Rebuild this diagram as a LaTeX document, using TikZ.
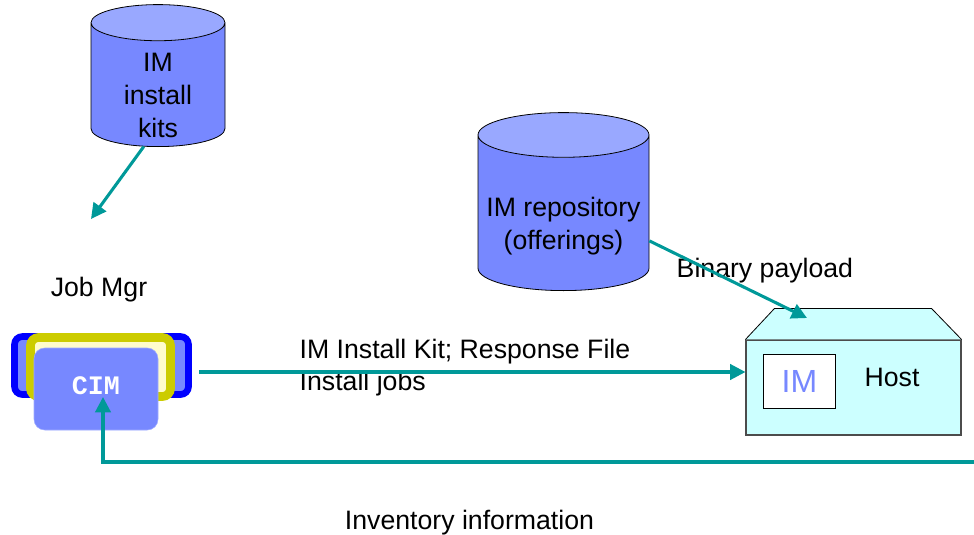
\documentclass[tikz,border=0pt]{standalone}
\usepackage{fontspec}
\setmainfont{Liberation Sans}
\newfontfamily\cimfont{Liberation Mono}
\usepackage{xcolor}
\usepackage{tikz}
\usetikzlibrary{shapes.geometric, arrows.meta, calc}
\definecolor{imblue}{HTML}{7788FF}
\definecolor{imtop}{HTML}{99A8FF}
\definecolor{imteal}{HTML}{009999}
\definecolor{imyellow}{HTML}{CCCC00}
\definecolor{hostfill}{HTML}{CCFFFF}
\newcommand{\storetext}[2]{\raisebox{#1}[0pt][0pt]{\begin{tabular}{@{}c@{}}#2\end{tabular}}}
\tikzstyle{label} = [font=\fontsize{20}{20}\selectfont, text=black]
\tikzstyle{store} = [cylinder, shape border rotate=90, cylinder uses custom fill, cylinder body fill=imblue, cylinder end fill=imtop, draw=black, line width=0.6pt, inner sep=0pt, anchor=south, font=\fontsize{20}{24.75}\selectfont]
\tikzstyle{arrow} = [line width=2.3pt, draw=imteal, -{Triangle[length=11.5pt,width=11.5pt]}]
\begin{document}
\begin{tikzpicture}[x=0.75pt,y=-0.75pt]
\useasboundingbox (0,0) rectangle (974,535);
\node (kits) [store, minimum width=134*0.75pt, minimum height=142*0.75pt, aspect=0.53] at (158,147) {\storetext{-14.7pt}{IM\\install\\kits}};
\node (repo) [store, minimum width=171*0.75pt, minimum height=178*0.75pt, aspect=0.29] at (563.5,291) {\storetext{-15.3pt}{IM repository\\(offerings)}};
\node (jobmgr) [label] at (99,290) {Job Mgr};
% Job manager stack
\node (back) [rectangle, rounded corners=6pt, draw=blue, line width=5pt, fill=imblue, minimum width=174*0.75pt, minimum height=58*0.75pt] at (101.5,365.5) {};
\node (mid) [rectangle, rounded corners=6pt, draw=imyellow, line width=6.5pt, fill=yellow!20, minimum width=140*0.75pt, minimum height=59*0.75pt] at (100.5,367) {};
\node (cim) [rectangle, rounded corners=8pt, draw=imblue!70!white, line width=0.4pt, fill=imblue, text=white, font=\cimfont\bfseries\fontsize{20}{20}\selectfont, minimum width=124*0.75pt, minimum height=82*0.75pt, text height=9pt, text depth=1.5pt] at (96,389) {CIM};
% Host
\node (host) [rectangle, draw=black!70, line width=0.8pt, fill=hostfill, minimum width=215*0.75pt, minimum height=95*0.75pt] at (853.5,387.5) {};
\fill [hostfill] (host.north west) -- ++(29,-31) -- ($(host.north east)+(-30,-31)$) -- (host.north east) -- cycle;
\draw [black, line width=0.6pt] (host.north west) -- ++(29,-31) -- ($(host.north east)+(-30,-31)$) -- (host.north east);
\node (im) [rectangle, draw=black, line width=0.6pt, fill=white, text=imblue, font=\fontsize{24}{24}\selectfont, minimum width=72*0.75pt, minimum height=54*0.75pt] at (799.5,381) {IM};
\node (hostlbl) [label] at (892,377) {Host};
% Labels
\node (payload) [label, anchor=west] at (672,271) {Binary payload};
\node (kitlbl) [label, anchor=west] at (295,352) {IM Install Kit; Response File};
\node (joblbl) [label, anchor=west] at (295,384) {Install jobs};
\node (invlbl) [label] at (469.5,523) {Inventory information};
% Connectors
\coordinate (kitsout) at (91,219);
\coordinate (hostin) at (807,318);
\coordinate (jobsout) at (199,372);
\coordinate (invout) at (974,462);
\coordinate (cimin) at (103,397);
\draw [arrow] (kits.257) -- (kitsout);
\draw [arrow] (repo.-18) -- (hostin);
\draw [arrow] (jobsout) -- (jobsout -| host.west);
\draw [arrow] (invout) -| (cimin);
\end{tikzpicture}
\end{document}
